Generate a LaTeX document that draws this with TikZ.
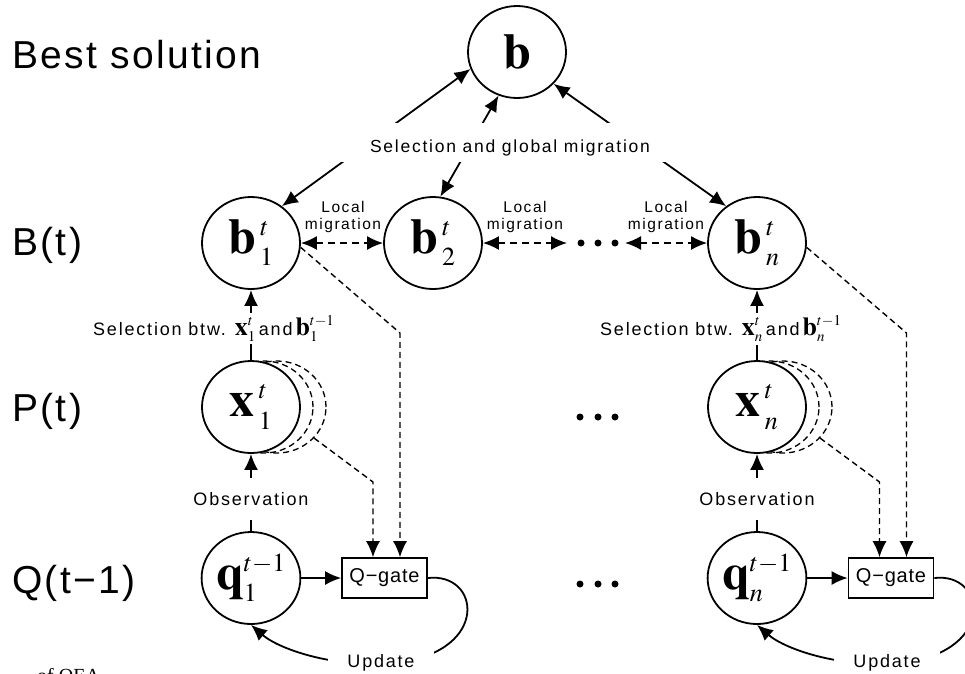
\documentclass[tikz,border=0pt]{standalone}
\usepackage{mathptmx}
\usepackage[no-math]{fontspec}
\newfontfamily\bigsf[LetterSpace=6]{Liberation Sans}
\newfontfamily\smsf[LetterSpace=10]{Liberation Sans}
\newfontfamily\gatesf[LetterSpace=4]{Liberation Sans}
\newfontfamily\capserif{Liberation Serif}
\usetikzlibrary{arrows.meta,shapes.geometric,calc}
\DeclareMathSizes{50}{50}{26}{18}
\DeclareMathSizes{26}{26}{15}{11}
\tikzset{
 circ/.style={ellipse, draw, line width=1.8pt, fill=white, minimum width=98pt, minimum height=92pt, inner sep=0pt, font=\fontsize{50}{50}\selectfont},
 ghost/.style={ellipse, draw, dash pattern=on 6pt off 4pt, line width=1.3pt, minimum width=98pt, minimum height=92pt, inner sep=0pt},
 gate/.style={draw, line width=1.7pt, minimum width=85pt, minimum height=40pt, inner sep=0pt, font=\gatesf\fontsize{20}{20}\selectfont, fill=white},
 rowlab/.style={anchor=base west, inner sep=0pt, font=\bigsf\fontsize{39}{39}\selectfont},
 lab/.style={font=\smsf\fontsize{18}{18}\selectfont, fill=white},
 lmig/.style={font=\smsf\fontsize{15.5}{17}\selectfont, align=center, inner sep=0pt},
 tipL/.tip={Latex[length=16pt,width=14pt]},
 arr/.style={line width=1.8pt, -tipL},
 garr/.style={line width=1.8pt, tipL-tipL},
 darr/.style={line width=1.4pt, dash pattern=on 6pt off 4pt, -tipL},
 ddarr/.style={line width=1.7pt, dash pattern=on 7pt off 5pt, tipL-tipL},
 dotn/.style={circle, fill, inner sep=0pt, minimum size=7pt},
}
\newcommand{\lm}[1]{{\fontsize{26}{26}\selectfont$#1$}}
\newcommand{\bsub}[3]{\mathbf{#1}^{\kern4pt #3}_{\kern4pt #2}}
\begin{document}
\begin{tikzpicture}[x=1pt,y=-1pt]
\useasboundingbox (0,0) rectangle (965,673);
% row labels
\node[rowlab] (lbest) at (12,68) {Best solution};
\node[rowlab] (lB) at (12,255) {B(t)};
\node[rowlab] (lP) at (12,421) {P(t)};
\node[rowlab] (lQ) at (12,593) {Q(t−1)};
% stacked copies behind x nodes
\node[ghost] (x1b) at (277,407) {};
\node[ghost] (x1a) at (264,407) {};
\node[ghost] (xnb) at (783,407) {};
\node[ghost] (xna) at (770,407) {};
% main nodes
\node[circ] (b) at (517,52) {$\mathbf{b}$};
\node[circ] (b1) at (251,243) {$\bsub{b}{1}{t}$};
\node[circ] (b2) at (433,243) {$\bsub{b}{2}{t}$};
\node[circ] (bn) at (757,243) {$\bsub{b}{n}{t}$};
\node[circ] (x1) at (251,407) {$\bsub{x}{1}{t}$};
\node[circ] (xn) at (757,407) {$\bsub{x}{n}{t}$};
\node[circ] (q1) at (251,578) {$\mathbf{q}_1^{t-1}$};
\node[circ] (qn) at (757,578) {$\mathbf{q}_n^{t-1}$};
\node[gate] (g1) at (384.5,578) {Q−gate};
\node[gate] (gn) at (891,578) {Q−gate};
% dots
\node[dotn] (d1) at (581,243) {};
\node[dotn] (d2) at (598,243) {};
\node[dotn] (d3) at (615,243) {};
\node[dotn] (p1) at (580,417) {};
\node[dotn] (p2) at (598,417) {};
\node[dotn] (p3) at (615,417) {};
\node[dotn] (r1) at (580,584) {};
\node[dotn] (r2) at (598,584) {};
\node[dotn] (r3) at (615,584) {};
% global migration
\draw[garr] (b1.50) -- (b.200);
\draw[garr] (b2.81) -- (b.247);
\draw[garr] (bn.130) -- (b.319);
\node[fill=white, minimum width=335pt, minimum height=39pt, inner sep=0pt] (sgbox) at (508,142.5) {};
\node[anchor=base, inner sep=0pt, font=\smsf\fontsize{17.5}{18}\selectfont] (sg) at (510,152) {Selection and global migration};
% local migration
\coordinate (dl) at (567,243);
\coordinate (dr) at (625,243);
\draw[ddarr] (b1) -- (b2);
\draw[ddarr] (b2) -- (dl);
\draw[ddarr] (dr) -- (bn);
\node[lmig] (lm1) at (343,217) {Local\\migration};
\node[lmig] (lm2) at (525,217) {Local\\migration};
\node[lmig] (lm3) at (666,217) {Local\\migration};
% selection between x and b
\draw[arr] (x1) -- (b1);
\draw[arr] (xn) -- (bn);
\node[lab, anchor=base west, inner sep=3pt] (s1) at (90,335) {Selection btw. \lm{\mathbf{x}_1^t}\,and\,\lm{\mathbf{b}_1^{t-1}}};
\node[lab, anchor=base west, inner sep=3pt] (sn) at (597,335) {Selection btw. \lm{\mathbf{x}_n^t}\,and\,\lm{\mathbf{b}_n^{t-1}}};
% observation
\draw[arr] (q1) -- (x1);
\draw[arr] (qn) -- (xn);
\node[lab, minimum height=42pt] (o1) at (251,499) {Observation};
\node[lab, minimum height=42pt] (on) at (757,499) {Observation};
% q to gate
\draw[arr] (q1) -- (g1);
\draw[arr] (qn) -- (gn);
% dashed feeds into gates
\coordinate (c1) at (373,482);
\coordinate (c2) at (400,333);
\coordinate (c3) at (879.5,482);
\coordinate (c4) at (906.5,333);
\draw[darr] (x1b.-40) -- (c1) -- (c1 |- g1.north);
\draw[darr] (b1.-5) -- (c2) -- (c2 |- g1.north);
\draw[darr] (xnb.-40) -- (c3) -- (c3 |- gn.north);
\draw[darr] (bn.-5) -- (c4) -- (c4 |- gn.north);
% update loops
\draw[arr] (g1.east) .. controls (480,572) and (490,650) .. (400,662) .. controls (340,670) and (280,650) .. (q1.south);
\draw[arr] (gn.east) .. controls (986,572) and (996,650) .. (906,662) .. controls (846,670) and (786,650) .. (qn.south);
\node[lab, anchor=base, inner xsep=19pt, inner ysep=8pt] (u1) at (381,667) {Update};
\node[lab, anchor=base, inner xsep=19pt, inner ysep=8pt] (un) at (887,667) {Update};
% caption fragment (cut off by the lower edge)
\node[anchor=north west, inner sep=0pt, font=\capserif\fontsize{20}{20}\selectfont] (cap) at (37,668) {of QEA};
\end{tikzpicture}
\end{document}
